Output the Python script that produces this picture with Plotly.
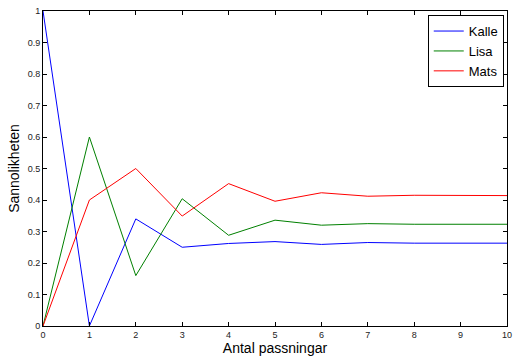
import plotly.graph_objects as go

steps = [0, 1, 2, 3, 4, 5, 6, 7, 8, 9, 10]
kalle = [1.0, 0.0, 0.34, 0.25, 0.262, 0.268, 0.259, 0.265, 0.263, 0.263, 0.263]
lisa = [0.0, 0.6, 0.16, 0.404, 0.288, 0.336, 0.320, 0.325, 0.323, 0.323, 0.323]
mats = [0.0, 0.4, 0.5, 0.349, 0.452, 0.396, 0.423, 0.412, 0.415, 0.414, 0.414]
names = ["Kalle", "Lisa", "Mats"]
colors = ["#0000ff", "#008000", "#ff0000"]
yticks = [0, 0.1, 0.2, 0.3, 0.4, 0.5, 0.6, 0.7, 0.8, 0.9, 1]
ytext = ["0", "0.1", "0.2", "0.3", "0.4", "0.5", "0.6", "0.7", "0.8", "0.9", "1"]

fig = go.Figure()
for name, vals, c in zip(names, [kalle, lisa, mats], colors):
    fig.add_trace(go.Scatter(x=steps, y=vals, mode="lines", name=name,
                             line=dict(color=c, width=1)))

axis_common = dict(showgrid=False, zeroline=False, showline=True, linecolor="black",
                   linewidth=1, mirror="ticks", ticks="inside", ticklen=4,
                   tickcolor="black", tickfont=dict(size=9, color="#222222"))
fig.update_xaxes(range=[0, 10], tickvals=steps, ticktext=[str(s) for s in steps],
                 title=dict(text="Antal passningar", font=dict(size=14, color="black"), standoff=2),
                 **axis_common)
fig.update_yaxes(range=[0, 1], tickvals=yticks, ticktext=ytext,
                 title=dict(text="Sannolikheten", font=dict(size=14, color="black"), standoff=4),
                 **axis_common)
fig.update_layout(
    width=518, height=358,
    margin=dict(l=43, r=6, t=11, b=30),
    plot_bgcolor="white", paper_bgcolor="white",
    font=dict(family="Liberation Sans, Arial, sans-serif"),
    legend=dict(x=0.993, y=0.987, xanchor="right", yanchor="top",
                bordercolor="black", borderwidth=1, bgcolor="white",
                font=dict(size=13, color="black"), itemwidth=30),
    showlegend=True,
)
fig.write_html("out.html")
